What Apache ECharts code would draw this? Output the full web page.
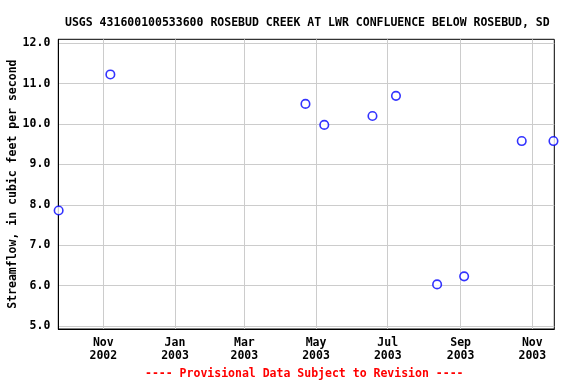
<!DOCTYPE html>
<html>
<head>
<meta charset="utf-8">
<script src="https://cdn.jsdelivr.net/npm/echarts@6/dist/echarts.min.js"></script>
<style>html,body{margin:0;padding:0;background:#fff}#c{width:576px;height:384px}</style>
</head>
<body>
<div id="c"></div>
<script>
const titleText = 'USGS 431600100533600 ROSEBUD CREEK AT LWR CONFLUENCE BELOW ROSEBUD, SD';
const yAxisTitle = 'Streamflow, in cubic feet per second';
const footerText = '---- Provisional Data Subject to Revision ----';
const dates = ['2002-09-24','2002-11-07','2003-04-22','2003-05-08','2003-06-18','2003-07-08','2003-08-12','2003-09-04','2003-10-23','2003-11-19'];
const flows = [7.86, 11.23, 10.5, 9.98, 10.2, 10.7, 6.03, 6.23, 9.58, 9.58];
const xTickDates = ['2002-11-01','2003-01-01','2003-03-01','2003-05-01','2003-07-01','2003-09-01','2003-11-01'];
const xTickLabels = ['Nov\n2002','Jan\n2003','Mar\n2003','May\n2003','Jul\n2003','Sep\n2003','Nov\n2003'];
const yTicks = [5, 6, 7, 8, 9, 10, 11, 12];
const xMin = '2002-09-23T17:00:00Z', xMax = '2003-11-19T17:00:00Z';
const yMin = 4.926, yMax = 12.1;

const t = s => Date.parse(s.length === 10 ? s + 'T00:00:00Z' : s);
const xTickVals = xTickDates.map(t);
const labelMap = {};
xTickVals.forEach((v, i) => labelMap[v] = xTickLabels[i]);
const font = 'DejaVu Sans Mono';

const chart = echarts.init(document.getElementById('c'), null, {renderer: 'canvas'});
chart.setOption({
  animation: false,
  backgroundColor: '#fff',
  title: {
    text: titleText, left: 60, top: 12,
    textStyle: {fontFamily: font, fontSize: 11.5, fontWeight: 'bold', color: '#000'}
  },
  graphic: [{
    type: 'text', left: 145, top: 368,
    style: {text: footerText, fill: '#ff0000', font: 'bold 11.5px "DejaVu Sans Mono"'}
  }],
  grid: {left: 58.3, right: 21.7, top: 39.3, bottom: 55, show: true, borderColor: '#000', borderWidth: 1,
         backgroundColor: 'transparent', containLabel: false, outerBoundsMode: 'none'},
  xAxis: {
    type: 'value', min: t(xMin), max: t(xMax),
    axisLine: {show: true, lineStyle: {color: '#000', width: 1}},
    axisTick: {show: false, customValues: xTickVals},
    axisLabel: {
      customValues: xTickVals,
      formatter: v => labelMap[v] || '',
      fontFamily: font, fontSize: 11.5, fontWeight: 'bold', color: '#000', margin: 8, lineHeight: 13
    },
    splitLine: {show: true, lineStyle: {color: '#cccccc', width: 1}}
  },
  yAxis: {
    type: 'value', min: yMin, max: yMax,
    name: yAxisTitle, nameLocation: 'middle', nameGap: 39, nameRotate: 90, nameMoveOverlap: false,
    nameTextStyle: {fontFamily: font, fontSize: 11.5, fontWeight: 'bold', color: '#000'},
    axisLine: {show: true, lineStyle: {color: '#000', width: 1}},
    axisTick: {show: false, customValues: yTicks},
    axisLabel: {
      customValues: yTicks,
      formatter: v => Number(v).toFixed(1),
      fontFamily: font, fontSize: 11.5, fontWeight: 'bold', color: '#000', margin: 8
    },
    splitLine: {show: true, lineStyle: {color: '#cccccc', width: 1}}
  },
  series: [{
    type: 'scatter',
    data: dates.map((d, i) => [t(d), flows[i]]),
    symbol: 'circle', symbolSize: 8.5,
    itemStyle: {color: '#ffffff', borderColor: '#0000ff', borderWidth: 1.6},
    clip: false
  }]
});
</script>
</body>
</html>
